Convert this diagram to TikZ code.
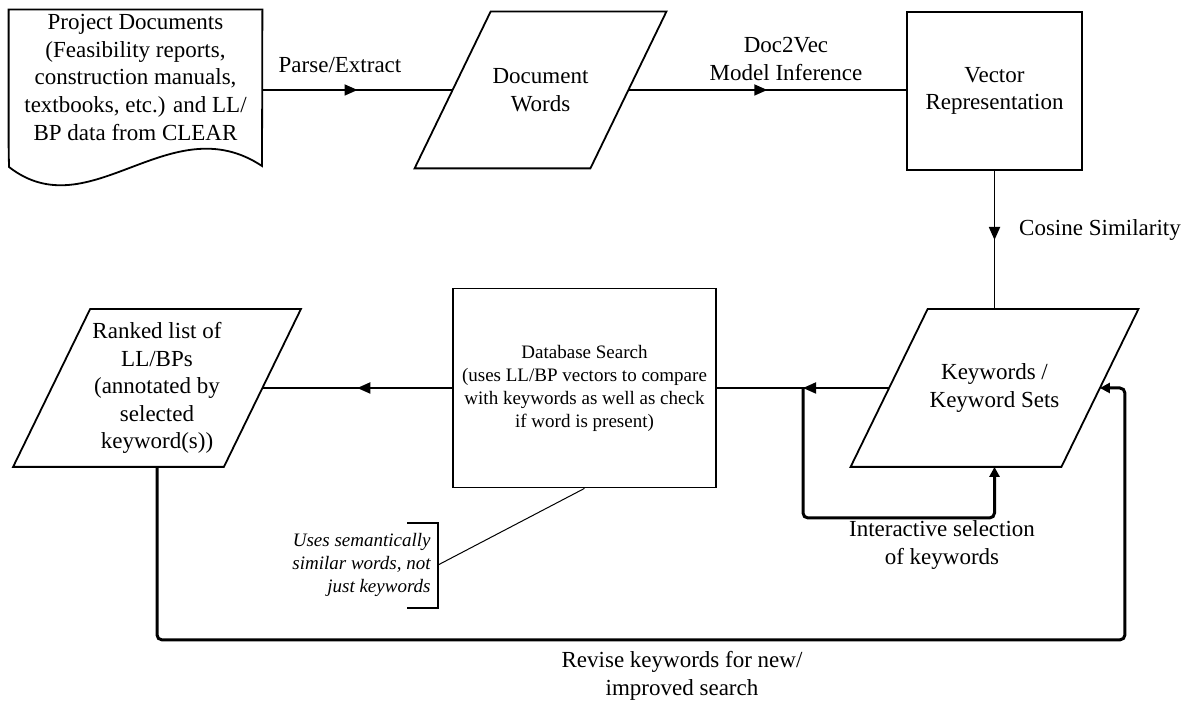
\documentclass[tikz,border=0pt]{standalone}
\usepackage{fontspec}
\setmainfont{Liberation Serif}
\usepackage{tikz}
\usetikzlibrary{arrows.meta, positioning, decorations.markings}

\begin{document}
\begin{tikzpicture}[
    x=0.5pt, y=-0.5pt,
    every node/.style={font=\fontsize{11.5}{13.8}\selectfont, align=center},
    plainbox/.style={draw, line width=0.9pt, inner sep=0pt},
    iobox/.style={inner sep=0pt},
    lbl/.style={inner sep=0pt},
    remark/.style={inner sep=0pt, align=right, font=\fontsize{9.5}{11.5}\selectfont\itshape},
    flow/.style={line width=0.9pt},
    midarrow/.style={flow, postaction={decorate}, decoration={markings,
        mark=at position 0.5 with {\arrow{Triangle[length=6.5pt, width=5.5pt]}}}},
    backloop/.style={line width=1.5pt, rounded corners=2.5pt, -{Triangle[length=5pt, width=5pt]}}
]
    \useasboundingbox (0,0) rectangle (1188,704);

    % top row
    \node[iobox, minimum width=126.5pt, minimum height=67.5pt] (docs) at (135.5,77.5)
        {Project Documents\\(Feasibility reports,\\construction manuals,\\textbooks, etc.) and LL/\\BP data from CLEAR};
    \draw[flow] (docs.south west) -- (docs.north west) -- (docs.north east) -- (262,166)
        .. controls (170,105) and (90,230) .. (9,167) -- (docs.south west);

    \node[iobox, minimum width=87.5pt, minimum height=78pt] (words) at (540.5,90) {Document\\Words};
    \draw[flow] ([xshift=19pt]words.north west) -- ([xshift=19pt]words.north east)
        -- ([xshift=-19pt]words.south east) -- ([xshift=-19pt]words.south west) -- cycle;

    \node[plainbox, minimum width=87.5pt, minimum height=79pt] (vec) at (994.5,91) {Vector\\Representation};

    % bottom row
    \node[iobox, minimum width=105pt, minimum height=78.5pt] (kw) at (994.5,388) {Keywords /\\Keyword Sets};
    \draw[flow] ([xshift=19.25pt]kw.north west) -- ([xshift=19.25pt]kw.north east)
        -- ([xshift=-19.25pt]kw.south east) -- ([xshift=-19.25pt]kw.south west) -- cycle;

    \node[plainbox, minimum width=131.5pt, minimum height=99.5pt, font=\fontsize{9.5}{11.5}\selectfont] (db) at (584.5,388)
        {Database Search\\(uses LL/BP vectors to compare\\with keywords as well as check\\if word is present)};

    \node[iobox, minimum width=105pt, minimum height=78.5pt] (ranked) at (157,388)
        {Ranked list of\\LL/BPs\\(annotated by\\selected\\keyword(s))};
    \draw[flow] ([xshift=19.25pt]ranked.north west) -- ([xshift=19.25pt]ranked.north east)
        -- ([xshift=-19.25pt]ranked.south east) -- ([xshift=-19.25pt]ranked.south west) -- cycle;

    % labels
    \node[lbl] (parselbl) at (340,65) {Parse/Extract};
    \node[lbl] (d2vlbl) at (786,59) {Doc2Vec\\Model Inference};
    \node[lbl] (coslbl) at (1100,230) {Cosine Similarity};
    \node[lbl] (interlbl) at (942,545) {Interactive selection\\of keywords};
    \node[lbl] (reviselbl) at (682,676) {Revise keywords for new/\\improved search};
    \node[remark, anchor=east] (semnote) at (431,565) {Uses semantically\\similar words, not\\just keywords};

    % connectors
    \draw[midarrow] (docs.east |- words.west) -- (words.west);
    \draw[midarrow] (words.east) -- (words.east -| vec.west);
    \draw[midarrow] (vec.south) -- (kw.north);
    \draw[midarrow] (kw.west) -- (db.east);
    \draw[midarrow] (db.west) -- (ranked.east);

    \path (kw.west) -- (db.east) coordinate[midway] (split);
    \draw[backloop] (split) -- ++(0,130) -| (kw.south);
    \draw[backloop] (ranked.south) -- ++(0,173) -| ([xshift=12.5pt]kw.east) -- (kw.east);

    % note bracket
    \draw[flow] (407,523) -| (438,608) -- (407,608);
    \coordinate (notetip) at (438,565);
    \draw[line width=0.5pt] (notetip) -- (db.south);
\end{tikzpicture}
\end{document}
